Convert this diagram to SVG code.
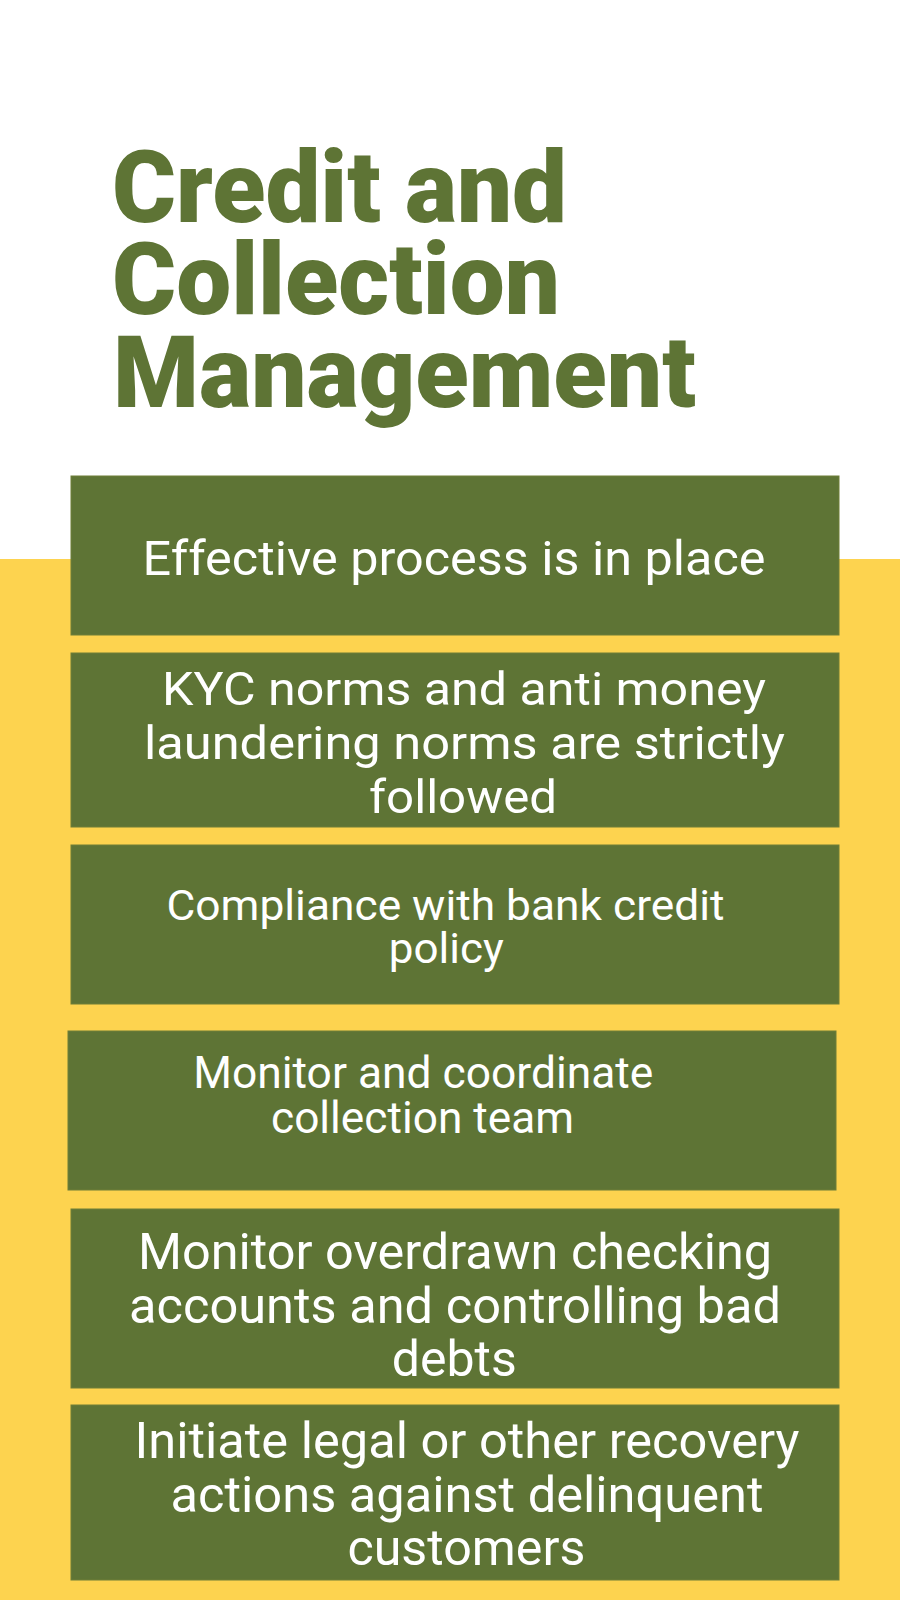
<svg xmlns="http://www.w3.org/2000/svg" width="900" height="1600" viewBox="0 0 900 1600">
  <style>
    .box { fill: #5E7435; stroke: #6E7E38; stroke-width: 1; }
    .title { font-family: Roboto, "Liberation Sans", sans-serif; font-weight: 900; font-size: 100px; fill: #5E7435; }
    .label { font-family: Roboto, "Liberation Sans", sans-serif; font-weight: 400; fill: #FFFFFF; text-anchor: middle; }
  </style>
  <rect x="0" y="0" width="900" height="1600" fill="#FFFFFF"/>
  <rect x="0" y="559" width="900" height="1041" fill="#FDD34F"/>

  <g id="title">
    <text class="title" x="112" y="222" textLength="455" lengthAdjust="spacingAndGlyphs">Credit and</text>
    <text class="title" x="112" y="314" textLength="448" lengthAdjust="spacingAndGlyphs">Collection</text>
    <text class="title" x="113" y="407" textLength="583" lengthAdjust="spacingAndGlyphs">Management</text>
  </g>

  <g id="node1">
    <rect class="box" x="71" y="476" width="768" height="159"/>
    <text class="label" x="454" y="575" font-size="49" textLength="623" lengthAdjust="spacingAndGlyphs">Effective process is in place</text>
  </g>

  <g id="node2">
    <rect class="box" x="71" y="653" width="768" height="174"/>
    <text class="label" x="464" y="705" font-size="47" textLength="604" lengthAdjust="spacingAndGlyphs">KYC norms and anti money</text>
    <text class="label" x="464.5" y="759" font-size="47" textLength="641" lengthAdjust="spacingAndGlyphs">laundering norms are strictly</text>
    <text class="label" x="463" y="813" font-size="47" textLength="188" lengthAdjust="spacingAndGlyphs">followed</text>
  </g>

  <g id="node3">
    <rect class="box" x="71" y="845" width="768" height="159"/>
    <text class="label" x="445.5" y="920" font-size="43" textLength="558" lengthAdjust="spacingAndGlyphs">Compliance with bank credit</text>
    <text class="label" x="446.3" y="963" font-size="43" textLength="115" lengthAdjust="spacingAndGlyphs">policy</text>
  </g>

  <g id="node4">
    <rect class="box" x="68" y="1031" width="768" height="159"/>
    <text class="label" x="423.3" y="1088" font-size="43.5" textLength="460" lengthAdjust="spacingAndGlyphs">Monitor and coordinate</text>
    <text class="label" x="422.5" y="1132.5" font-size="43.5" textLength="303" lengthAdjust="spacingAndGlyphs">collection team</text>
  </g>

  <g id="node5">
    <rect class="box" x="71" y="1209" width="768" height="179"/>
    <text class="label" x="455" y="1269" font-size="50" textLength="634" lengthAdjust="spacingAndGlyphs">Monitor overdrawn checking</text>
    <text class="label" x="455" y="1323" font-size="50" textLength="652" lengthAdjust="spacingAndGlyphs">accounts and controlling bad</text>
    <text class="label" x="454.3" y="1375.5" font-size="50" textLength="125" lengthAdjust="spacingAndGlyphs">debts</text>
  </g>

  <g id="node6">
    <rect class="box" x="71" y="1405" width="768" height="175"/>
    <text class="label" x="467" y="1457.5" font-size="50" textLength="665" lengthAdjust="spacingAndGlyphs">Initiate legal or other recovery</text>
    <text class="label" x="467" y="1512" font-size="50" textLength="593" lengthAdjust="spacingAndGlyphs">actions against delinquent</text>
    <text class="label" x="466.4" y="1565" font-size="50" textLength="238" lengthAdjust="spacingAndGlyphs">customers</text>
  </g>

  <g id="connectors"></g>
</svg>
